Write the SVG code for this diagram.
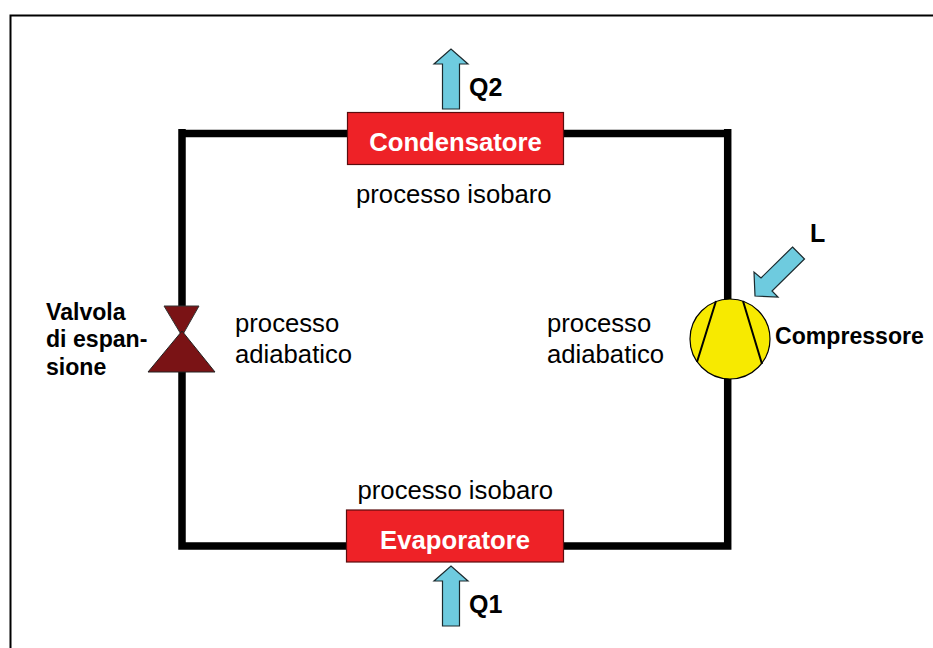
<svg xmlns="http://www.w3.org/2000/svg" width="933" height="648" viewBox="0 0 933 648">
<style>
text{font-family:"Liberation Sans",Arial,sans-serif;fill:#000}
.t{font-size:25.700px}
.b{font-size:23.100px;font-weight:bold}
.q{font-size:25px;font-weight:bold}
.w{font-size:25.700px;font-weight:bold;fill:#fff;text-anchor:middle}
.box{fill:#ee2227;stroke:#5a0c0e;stroke-width:1.2}
.ar{fill:#6ecbdf;stroke:#1c2a2e;stroke-width:1.2;stroke-linejoin:miter}
.wire{fill:none;stroke:#000;stroke-width:7.5;stroke-linecap:butt}
</style>
<rect width="933" height="648" fill="#fff"/>
<g id="frame"><path d="M10.500 648V15.500H933" fill="none" stroke="#000" stroke-width="2"/></g>
<g id="connectors">
<path class="wire" d="M182 129V310M178.250 133.500H347M564 133.500H731.450M727.700 129V300M727.700 378V549.750M731.450 546H564M346 546H178.250M182 549.750V372"/>
</g>
<g id="condensatore"><rect class="box" x="347.500" y="112.500" width="216" height="52"/><text class="w" x="455.500" y="151">Condensatore</text></g>
<g id="evaporatore"><rect class="box" x="346.500" y="510" width="217" height="52"/><text class="w" x="455" y="549">Evaporatore</text></g>
<g id="q2"><path class="ar" d="M442.500 109V64H434L451 49L468 64H459.500V109Z"/><text class="q" x="469" y="95.500">Q2</text></g>
<g id="q1"><path class="ar" d="M442.500 626V581H434L451 566L468 581H459.500V626Z"/><text class="q" x="469" y="612.500">Q1</text></g>
<g id="l"><path class="ar" d="M792.500 247L804.500 259L772 291L778 297L755 296L754 272L761 278Z"/><text class="q" x="810" y="242">L</text></g>
<g id="valvola"><path d="M164 306H199L182 336Z" fill="#7a1315" stroke="#333" stroke-width="1"/><path d="M182 331L215 372H148Z" fill="#7a1315" stroke="#222" stroke-width="1"/><text class="b" x="46" y="319.500">Valvola</text><text class="b" x="46" y="346.500">di espan-</text><text class="b" x="46" y="374.500">sione</text></g>
<g id="compressore"><circle cx="730" cy="339" r="40" fill="#f7ea00" stroke="#000" stroke-width="1.2"/><path d="M716 301L697 362M743 301L762 364" fill="none" stroke="#000" stroke-width="2"/><text class="b" x="775" y="344">Compressore</text></g>
<g id="labels"><text class="t" x="356" y="203">processo isobaro</text><text class="t" x="357.500" y="499">processo isobaro</text><text class="t" x="235" y="331.500">processo</text><text class="t" x="235" y="362.500">adiabatico</text><text class="t" x="547" y="331.500">processo</text><text class="t" x="547" y="362.500">adiabatico</text></g>
</svg>
